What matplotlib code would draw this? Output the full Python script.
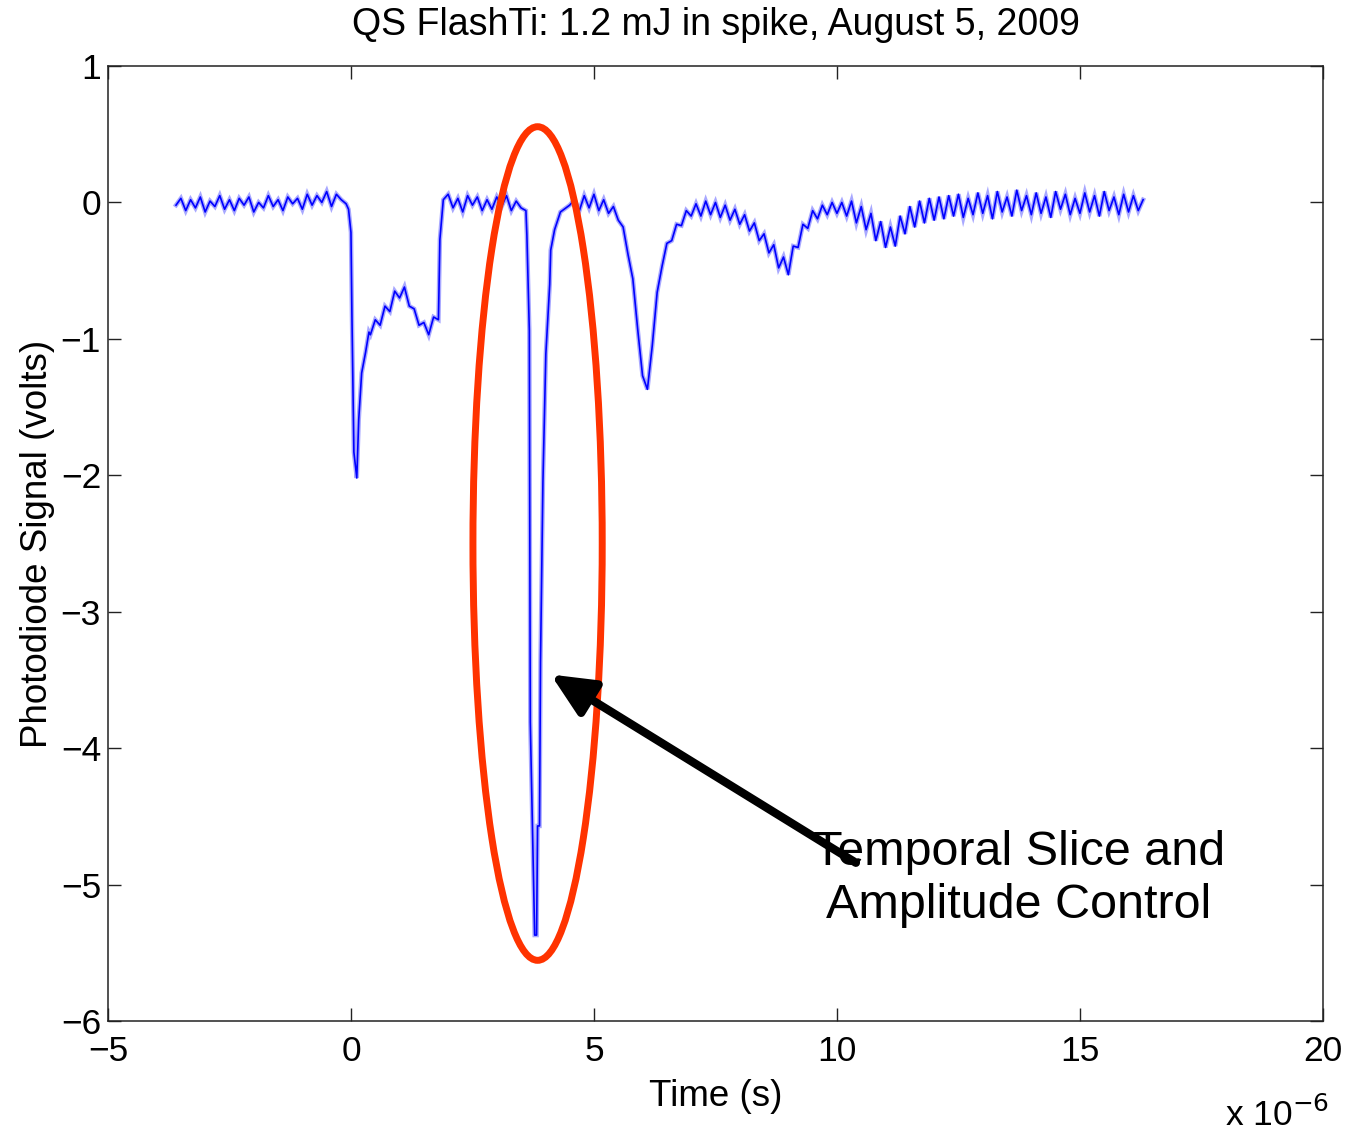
import numpy as np
import matplotlib
matplotlib.use('Agg')
import matplotlib.pyplot as plt
from matplotlib.patches import Ellipse

plt.rcParams['font.family'] = ['Liberation Sans', 'DejaVu Sans']

# photodiode trace, time in microseconds, signal in volts
# uniformly sampled pieces: (start, step, values)
base_start, base_step = -3.6, 0.1
base_vals = [-0.02, 0.03, -0.06, 0.02, -0.04, 0.04, -0.07, 0.01, -0.03, 0.05,
             -0.05, 0.02, -0.06, 0.03, -0.02, 0.04, -0.07, 0.00, -0.04, 0.05,
             -0.03, 0.02, -0.06, 0.04, -0.01, 0.03, -0.05, 0.06, -0.02, 0.05,
             0.00, 0.08, -0.03, 0.06, 0.02, -0.01]

drop1_t = [-0.05, 0.00, 0.02, 0.06, 0.12, 0.16, 0.22, 0.30, 0.37]
drop1_v = [-0.05, -0.22, -0.83, -1.83, -2.02, -1.59, -1.25, -1.10, -0.95]

hump_start, hump_step = 0.4, 0.1
hump_vals = [-0.97, -0.86, -0.90, -0.76, -0.80, -0.65, -0.70, -0.62, -0.76, -0.78,
             -0.90, -0.88, -0.97, -0.84, -0.86]

jump_t = [1.83, 1.90]
jump_v = [-0.27, 0.02]

plat_start, plat_step = 2.0, 0.1
plat_vals = [0.06, -0.04, 0.03, -0.07, 0.05, -0.02, 0.04, -0.06, 0.02, -0.05,
             0.04, -0.03, 0.05, -0.06, 0.01, -0.04]

spike_t = [3.60, 3.62, 3.67, 3.69, 3.78, 3.82, 3.84, 3.88, 3.90, 3.95,
           4.01, 4.09, 4.11, 4.19, 4.31, 4.50]
spike_v = [-0.06, -0.24, -0.94, -3.81, -5.37, -5.37, -4.57, -4.57, -3.37, -2.05,
           -1.11, -0.60, -0.35, -0.20, -0.07, -0.02]

tail_start, tail_step = 4.6, 0.1
tail_vals = [0.02, -0.06, 0.05, -0.04, 0.06, -0.06, 0.02, -0.08, -0.03, -0.13,
             -0.18, -0.38, -0.56, -0.93, -1.27, -1.37, -1.05, -0.66, -0.47, -0.30,
             -0.28, -0.16, -0.17, -0.06, -0.10, -0.01, -0.10, 0.01, -0.09, 0.00,
             -0.11, -0.02, -0.13, -0.05, -0.16, -0.09, -0.21, -0.15, -0.28, -0.23,
             -0.37, -0.31, -0.48, -0.40, -0.53, -0.32, -0.33, -0.16, -0.19, -0.06,
             -0.12, -0.02, -0.09, 0.00, -0.08, 0.00, -0.10, 0.01, -0.15, -0.03,
             -0.20, -0.08, -0.28, -0.14, -0.33, -0.18, -0.32, -0.10, -0.23, -0.03,
             -0.18, 0.01, -0.15, 0.03, -0.13, 0.04, -0.12, 0.05, -0.10, 0.06,
             -0.11, 0.03, -0.09, 0.07, -0.08, 0.05, -0.12, 0.08, -0.07, 0.04,
             -0.10, 0.09, -0.06, 0.05, -0.09, 0.07, -0.08, 0.04, -0.11, 0.08,
             -0.05, 0.06, -0.09, 0.03, -0.08, 0.07, -0.07, 0.05, -0.10, 0.08,
             -0.06, 0.04, -0.09, 0.06, -0.07, 0.05, -0.06, 0.02]

def grid_piece(start, step, vals):
    return list(start + step * np.arange(len(vals))), list(vals)

t, v = [], []
for tt, vv in [grid_piece(base_start, base_step, base_vals), (drop1_t, drop1_v),
               grid_piece(hump_start, hump_step, hump_vals), (jump_t, jump_v),
               grid_piece(plat_start, plat_step, plat_vals), (spike_t, spike_v),
               grid_piece(tail_start, tail_step, tail_vals)]:
    t += tt
    v += vv
t = np.array(t)
v = np.array(v)

xticks = [-5, 0, 5, 10, 15, 20]
yticks = [-6, -5, -4, -3, -2, -1, 0, 1]

fig = plt.figure(figsize=(13.48, 11.36), dpi=100)
ax = fig.add_axes([0.0801, 0.1012, 0.9013, 0.8407])

# soft halo + core, like the dense scope trace
ax.plot(t, v, color='#a8a8ff', lw=3.2, solid_joinstyle='miter')
ax.plot(t, v, color='#0000ff', lw=1.2)

ax.set_xlim(-5, 20)
ax.set_ylim(-6, 1)
ax.set_xticks(xticks)
ax.set_yticks(yticks)
ax.tick_params(direction='in', length=9.5, width=1, top=True, right=True,
               labelsize=25.5, colors='#222222', labelcolor='black')
ax.tick_params(axis='x', pad=10)
ax.tick_params(axis='y', pad=5)
for s in ax.spines.values():
    s.set_color('#222222')
    s.set_linewidth(1.1)

ax.set_title('QS FlashTi: 1.2 mJ in spike, August 5, 2009', fontsize=27, pad=22)
ax.set_xlabel('Time (s)', fontsize=26.5, labelpad=8)
ax.set_ylabel('Photodiode Signal (volts)', fontsize=26.5, labelpad=4)
fig.text(0.986, 0.003, r'x 10$^{-6}$', fontsize=25.5, ha='right', va='bottom')

# annotation: ellipse around the spike, arrow and label
ax.add_patch(Ellipse((3.84, -2.50), 2.66, 6.11, fill=False, ec='#ff3300', lw=5, zorder=4))
ax.text(13.74, -4.96, 'Temporal Slice and\nAmplitude Control', fontsize=34.9,
        ha='center', va='center', linespacing=1.22, zorder=4)
ax.annotate('', xy=(4.11, -3.46), xytext=(10.39, -4.84), zorder=5,
            arrowprops=dict(arrowstyle='-|>,head_length=1.3,head_width=0.6',
                            lw=6, color='black', mutation_scale=20,
                            shrinkA=0, shrinkB=0))

fig.savefig('out.png', dpi=100)
